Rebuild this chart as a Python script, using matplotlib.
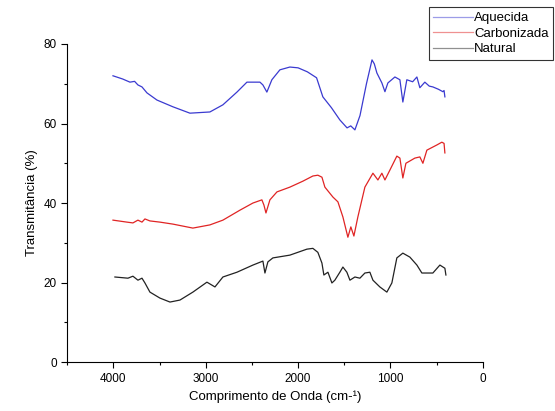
import matplotlib
matplotlib.use("Agg")
import matplotlib.pyplot as plt
from matplotlib.ticker import MultipleLocator

plt.rcParams['font.family'] = ['Liberation Sans', 'DejaVu Sans']

# wavenumber (cm-1) / transmittance (%)
aq_x = [4004, 3900, 3820, 3770, 3734, 3690, 3636, 3528, 3355, 3171, 2955, 2814,
        2662, 2554, 2413, 2381, 2338, 2284, 2197, 2089, 2000, 1900, 1800, 1732,
        1640, 1548, 1470, 1430, 1385, 1330, 1260, 1200, 1175, 1147, 1093, 1060,
        1028, 952, 898, 866, 823, 760, 714, 682, 628, 580, 541, 480, 433, 420,
        411]
aq_y = [72.0, 71.2, 70.4, 70.6, 69.7, 69.2, 67.7, 65.9, 64.2, 62.6, 62.9, 64.7,
        67.9, 70.4, 70.4, 69.7, 67.9, 71.0, 73.5, 74.2, 74.0, 73.0, 71.5, 66.7,
        64.0, 60.9, 58.9, 59.4, 58.4, 62.0, 70.0, 76.0, 75.0, 72.7, 70.2, 68.0,
        70.2, 71.7, 71.0, 65.4, 71.0, 70.5, 71.7, 69.0, 70.4, 69.4, 69.2, 68.6,
        68.0, 68.3, 66.7]

carb_x = [4004, 3853, 3788, 3734, 3690, 3658, 3604, 3496, 3355, 3139, 2955, 2814,
          2630, 2489, 2392, 2370, 2348, 2305, 2229, 2089, 1948, 1840, 1786, 1742,
          1710, 1623, 1569, 1515, 1461, 1429, 1396, 1353, 1277, 1190, 1136, 1093,
          1060, 1006, 931, 898, 866, 833, 736, 682, 649, 606, 498, 444, 420, 411]
carb_y = [35.7, 35.2, 35.0, 35.7, 35.2, 36.0, 35.5, 35.2, 34.7, 33.7, 34.5, 35.7,
          38.2, 40.0, 40.8, 39.5, 37.5, 40.8, 42.8, 44.0, 45.5, 46.8, 47.0, 46.5,
          44.0, 41.5, 40.3, 36.5, 31.4, 34.0, 31.7, 36.5, 44.0, 47.5, 45.8, 47.5,
          45.8, 48.3, 51.8, 51.3, 46.3, 50.0, 51.3, 51.6, 50.0, 53.3, 54.6, 55.3,
          55.0, 52.6]

nat_x = [3983, 3842, 3788, 3734, 3690, 3658, 3604, 3496, 3387, 3279, 3139, 2987,
         2900, 2814, 2662, 2489, 2381, 2359, 2327, 2273, 2089, 1905, 1840, 1786,
         1742, 1721, 1677, 1634, 1602, 1548, 1515, 1472, 1439, 1385, 1331, 1277,
         1223, 1190, 1115, 1039, 985, 931, 866, 790, 714, 660, 541, 465, 411, 400]
nat_y = [21.4, 21.1, 21.6, 20.6, 21.1, 19.9, 17.6, 16.1, 15.1, 15.6, 17.6, 20.1,
         18.9, 21.4, 22.6, 24.4, 25.4, 22.4, 25.2, 26.2, 26.9, 28.4, 28.6, 27.6,
         24.9, 21.9, 22.6, 19.9, 20.6, 22.6, 23.9, 22.6, 20.6, 21.4, 21.1, 22.4,
         22.6, 20.6, 18.9, 17.6, 19.9, 26.2, 27.4, 26.4, 24.4, 22.4, 22.4, 24.4,
         23.6, 21.9]

fig = plt.figure(figsize=(5.55, 4.11), dpi=100)
ax = fig.add_axes([0.121, 0.119, 0.749, 0.774])

ax.plot(aq_x, aq_y, color='#3a3ad0', lw=0.9, label='Aquecida')
ax.plot(carb_x, carb_y, color='#e02424', lw=0.9, label='Carbonizada')
ax.plot(nat_x, nat_y, color='#222222', lw=0.9, label='Natural')

ax.set_xlim(4500, 0)
ax.set_ylim(0, 80)
ax.xaxis.set_major_locator(MultipleLocator(1000))
ax.xaxis.set_minor_locator(MultipleLocator(500))
ax.yaxis.set_major_locator(MultipleLocator(20))
ax.yaxis.set_minor_locator(MultipleLocator(10))
ax.tick_params(which='both', direction='out', labelsize=8.5, width=0.8)
ax.tick_params(which='major', length=4)
ax.tick_params(which='minor', length=2.5)
ax.spines['top'].set_visible(False)
ax.spines['right'].set_visible(False)

ax.set_xlabel('Comprimento de Onda (cm-¹)', fontsize=9.5)
ax.set_ylabel('Transmitância (%)', fontsize=9.5)

leg = fig.legend(loc='upper right', bbox_to_anchor=(0.997, 0.982), fontsize=9.5,
                 frameon=True, fancybox=False, handlelength=3.0, handletextpad=0.1,
                 borderpad=0.35, labelspacing=0.25, borderaxespad=0)
leg.get_frame().set_edgecolor('black')
leg.get_frame().set_linewidth(0.8)
for line in leg.get_lines():
    line.set_alpha(0.5)

fig.savefig('out.png', dpi=100)
